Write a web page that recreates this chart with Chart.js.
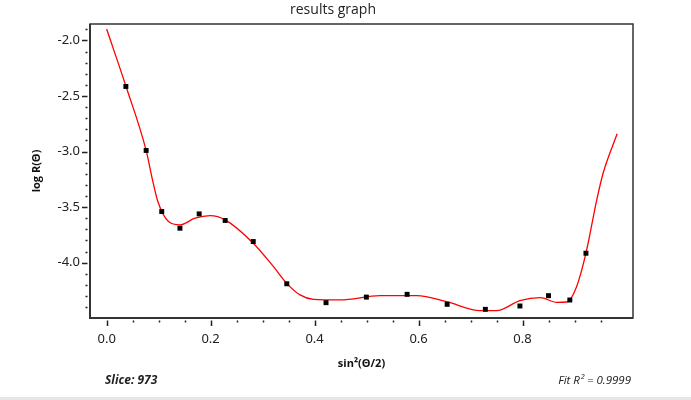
<!DOCTYPE html>
<html>
<head>
<meta charset="utf-8">
<script src="https://cdn.jsdelivr.net/npm/chart.js@4/dist/chart.umd.min.js"></script>
<style>
  html, body { margin: 0; padding: 0; background: #fff; }
  #wrap { position: relative; width: 691px; height: 400px; }
  #rule { position: absolute; left: 0; top: 397px; width: 691px; height: 3px; background: #e6e6e6; }
</style>
</head>
<body>
<div id="wrap">
  <canvas id="chart" width="691" height="400"></canvas>
  <div id="rule"></div>
</div>
<script>
// measured points
const measX = [0.037, 0.076, 0.106, 0.141, 0.178, 0.228, 0.282, 0.3465, 0.422, 0.4996, 0.578, 0.655, 0.7285, 0.795, 0.85, 0.891, 0.922];
const measY = [-2.414, -2.99, -3.54, -3.69, -3.561, -3.62, -3.81, -4.19, -4.36, -4.31, -4.285, -4.375, -4.42, -4.39, -4.297, -4.336, -3.915];

// fitted curve
const fitX = [0.0, 0.037, 0.076, 0.088, 0.0985, 0.119, 0.141, 0.17, 0.199, 0.228, 0.282, 0.321, 0.3465, 0.372, 0.398, 0.449, 0.526, 0.5965, 0.654, 0.718, 0.75, 0.795, 0.834, 0.866, 0.885, 0.904, 0.922, 0.943, 0.955, 0.982];
const fitY = [-1.897, -2.41, -2.99, -3.25, -3.45, -3.63, -3.66, -3.6, -3.577, -3.615, -3.825, -4.036, -4.186, -4.29, -4.33, -4.335, -4.297, -4.297, -4.351, -4.432, -4.432, -4.342, -4.315, -4.357, -4.354, -4.216, -3.915, -3.43, -3.195, -2.84];

const xMajor = [0.0, 0.2, 0.4, 0.6, 0.8];
const yMajor = [-2.0, -2.5, -3.0, -3.5, -4.0];
const xMinor = [0.05, 0.1, 0.15, 0.25, 0.3, 0.35, 0.45, 0.5, 0.55, 0.65, 0.7, 0.75, 0.85, 0.9, 0.95];
const yMinor = [-1.9, -2.1, -2.2, -2.3, -2.4, -2.6, -2.7, -2.8, -2.9, -3.1, -3.2, -3.3, -3.4, -3.6, -3.7, -3.8, -3.9, -4.1, -4.2, -4.3, -4.4];

const titleText = 'results graph';
const sliceText = 'Slice: 973';
const fitText = 'Fit R\u00b2 = 0.9999';

const ink = '#222';

// frame, tick marks and free texts
const decorPlugin = {
  id: 'decor',
  afterDraw(chart) {
    const { ctx, chartArea: a, scales } = chart;
    const xs = scales.x, ys = scales.y;
    ctx.save();
    ctx.strokeStyle = '#333';
    ctx.lineWidth = 1.5;
    ctx.strokeRect(a.left, a.top, a.right - a.left, a.bottom - a.top);
    ctx.lineWidth = 2;
    ctx.beginPath();
    ctx.moveTo(a.left, a.top); ctx.lineTo(a.left, a.bottom); ctx.lineTo(a.right, a.bottom);
    ctx.stroke();

    ctx.strokeStyle = ink;
    ctx.lineWidth = 1.5;
    ctx.beginPath();
    for (const v of xMajor) {
      const px = Math.round(xs.getPixelForValue(v)) + 0.5;
      ctx.moveTo(px, a.bottom + 2.5); ctx.lineTo(px, a.bottom + 8);
    }
    for (const v of yMajor) {
      const py = Math.round(ys.getPixelForValue(v)) + 0.5;
      ctx.moveTo(a.left - 2.5, py); ctx.lineTo(a.left - 8, py);
    }
    ctx.stroke();
    ctx.beginPath();
    for (const v of xMinor) {
      const px = Math.round(xs.getPixelForValue(v)) + 0.5;
      ctx.moveTo(px, a.bottom + 2.5); ctx.lineTo(px, a.bottom + 4.5);
    }
    for (const v of yMinor) {
      const py = Math.round(ys.getPixelForValue(v)) + 0.5;
      ctx.moveTo(a.left - 2.5, py); ctx.lineTo(a.left - 4.5, py);
    }
    ctx.stroke();

    ctx.fillStyle = '#222';
    ctx.textBaseline = 'middle';
    ctx.textAlign = 'center';
    ctx.font = '14px "Open Sans"';
    ctx.fillText(titleText, 333, 10);
    ctx.font = 'italic bold 12px "Open Sans"';
    ctx.textAlign = 'left';
    ctx.fillText(sliceText, 105, 381);
    ctx.font = 'italic 11.5px "Open Sans"';
    ctx.textAlign = 'right';
    ctx.fillText(fitText, 631, 381);
    ctx.restore();
  }
};

new Chart(document.getElementById('chart'), {
  type: 'scatter',
  data: {
    datasets: [
      {
        label: 'data',
        data: measX.map((x, i) => ({ x, y: measY[i] })),
        pointStyle: 'rect',
        pointRadius: 3.5,
        backgroundColor: '#000',
        borderColor: '#000',
        borderWidth: 0,
        showLine: false,
      },
      {
        label: 'fit',
        data: fitX.map((x, i) => ({ x, y: fitY[i] })),
        showLine: true,
        pointRadius: 0,
        borderColor: 'rgb(255, 0, 0)',
        borderWidth: 1.3,
        cubicInterpolationMode: 'monotone',
        fill: false,
      },
    ],
  },
  options: {
    responsive: false,
    animation: false,
    devicePixelRatio: 1,
    layout: { padding: { left: 0, top: 24, right: 58, bottom: 0 } },
    plugins: {
      legend: { display: false },
      tooltip: { enabled: false },
    },
    scales: {
      x: {
        type: 'linear',
        min: -0.032,
        max: 1.0125,
        grid: { display: false, drawTicks: false },
        border: { display: false },
        afterBuildTicks: s => { s.ticks = xMajor.map(value => ({ value })); },
        afterFit: s => { s.height = 82; },
        ticks: {
          padding: 13,
          color: '#222',
          font: { family: '"Noto Sans"', size: 13 },
          callback: v => Number(v).toFixed(1),
        },
        title: {
          display: true,
          text: 'sin\u00b2(\u0398/2)',
          color: '#111',
          font: { family: '"Open Sans"', size: 11, weight: 'bold' },
          padding: { top: 0, bottom: 29.5 },
        },
      },
      y: {
        type: 'linear',
        min: -4.498,
        max: -1.852,
        grid: { display: false, drawTicks: false },
        border: { display: false },
        afterBuildTicks: s => { s.ticks = yMajor.map(value => ({ value })); },
        afterFit: s => { s.width = 90; },
        ticks: {
          padding: 10,
          color: '#222',
          font: { family: '"Noto Sans"', size: 13 },
          callback: v => Number(v).toFixed(1),
        },
        title: {
          display: true,
          text: 'log R(\u0398)',
          color: '#111',
          font: { family: '"Open Sans"', size: 11, weight: 'bold' },
          padding: { top: 30.5, bottom: 0 },
        },
      },
    },
  },
  plugins: [decorPlugin],
});
</script>
</body>
</html>
